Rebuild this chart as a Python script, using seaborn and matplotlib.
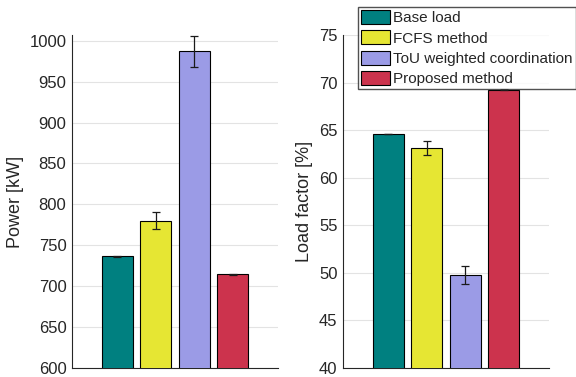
"""
Peak power and load factor comparison of EV charging coordination methods.
"""

import matplotlib
matplotlib.use("Agg")
import matplotlib.pyplot as plt
import pandas as pd
import seaborn as sns


# ---------------------------------------------------------------------------
# Data
# ---------------------------------------------------------------------------

METHODS = [
    "Base load",
    "FCFS method",
    "ToU weighted coordination",
    "Proposed method",
]

PEAK_POWER = [736.6, 780.2, 987.0, 714.6]
PEAK_POWER_ERR = [0.5, 10.0, 19.0, 0.6]

LOAD_FACTOR = [64.6, 63.13, 49.8, 69.25]
LOAD_FACTOR_ERR = [0.03, 0.75, 0.95, 0.06]

COLORS = ["#008080", "#E6E633", "#9B9BE6", "#CC334D"]

TEXT_COLOR = "#262626"


# ---------------------------------------------------------------------------
# Plot settings
# ---------------------------------------------------------------------------

sns.set_theme(style="white")
plt.rcParams["font.family"] = ["Liberation Sans", "DejaVu Sans"]
plt.rcParams["text.color"] = TEXT_COLOR
plt.rcParams["axes.labelcolor"] = TEXT_COLOR
plt.rcParams["xtick.color"] = TEXT_COLOR
plt.rcParams["ytick.color"] = TEXT_COLOR


def draw_panel(ax, values, errors, ylabel, ylim, yticks):
    """Draw one bar panel with error bars."""
    df = pd.DataFrame({"method": METHODS, "value": values})

    sns.barplot(
        data=df,
        x="method",
        y="value",
        hue="method",
        palette=COLORS,
        order=METHODS,
        hue_order=METHODS,
        width=0.8,
        dodge=False,
        saturation=1,
        edgecolor="black",
        linewidth=0.8,
        errorbar=None,
        legend=False,
        ax=ax,
        zorder=3,
    )

    ax.errorbar(
        range(len(METHODS)),
        values,
        yerr=errors,
        fmt="none",
        ecolor="#1a1a1a",
        elinewidth=0.9,
        capsize=3,
        capthick=0.9,
        zorder=4,
    )

    ax.set_xlim(-1.18, 3 + 1.18)
    ax.set_ylim(*ylim)
    ax.set_yticks(yticks)
    ax.set_xticks([])
    ax.set_xlabel("")
    ax.set_ylabel(ylabel, fontsize=13)
    ax.tick_params(axis="y", labelsize=12, length=3, direction="in",
                   width=0.6, pad=4)
    ax.yaxis.grid(True, color="#e3e3e3", linewidth=0.8, zorder=0)
    ax.set_axisbelow(True)

    for side in ["top", "right"]:
        ax.spines[side].set_visible(False)
    for side in ["left", "bottom"]:
        ax.spines[side].set_color(TEXT_COLOR)
        ax.spines[side].set_linewidth(0.8)


fig = plt.figure(figsize=(5.76, 3.77), dpi=100)

ax_power = fig.add_axes([72 / 576, 1 - 368 / 377, 206 / 576, 333 / 377])
ax_lf = fig.add_axes([343 / 576, 1 - 368 / 377, 206 / 576, 333 / 377])

draw_panel(
    ax_power,
    PEAK_POWER,
    PEAK_POWER_ERR,
    "Power [kW]",
    (600, 1007),
    range(600, 1001, 50),
)

draw_panel(
    ax_lf,
    LOAD_FACTOR,
    LOAD_FACTOR_ERR,
    "Load factor [%]",
    (40, 75),
    range(40, 76, 5),
)

handles = [
    plt.Rectangle((0, 0), 1, 1, facecolor=c, edgecolor="black", linewidth=0.8)
    for c in COLORS
]
fig.legend(
    handles,
    METHODS,
    loc="upper right",
    bbox_to_anchor=(1.0, 1 - 7 / 377),
    fontsize=11,
    frameon=True,
    fancybox=False,
    edgecolor="#262626",
    handlelength=1.95,
    handleheight=1.0,
    handletextpad=0.2,
    labelspacing=0.35,
    borderpad=0.2,
    borderaxespad=0.0,
)

fig.savefig("out.png", dpi=100)
